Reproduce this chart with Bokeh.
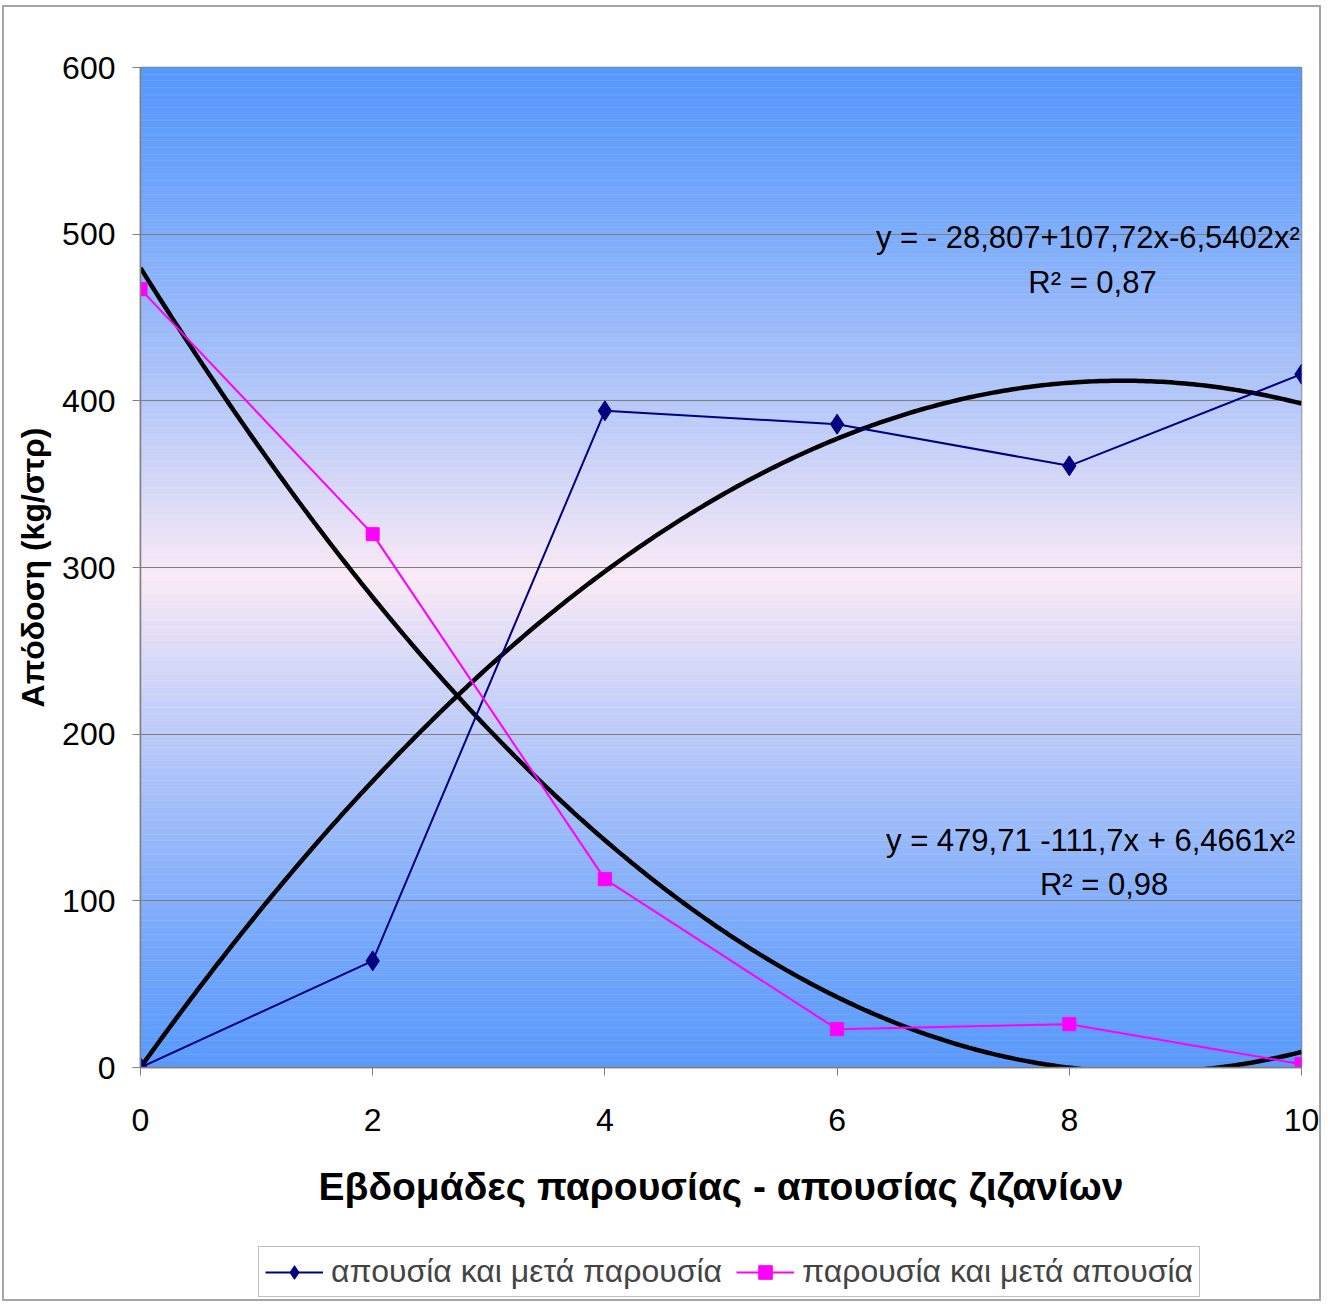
import numpy as np
from bokeh.plotting import figure
from bokeh.layouts import column
from bokeh.models import Legend, LegendItem, Label, FixedTicker
from bokeh.embed import file_html
from bokeh.resources import INLINE

# ---------------- data ----------------
weeks = [0, 2, 4, 6, 8, 10]
absence_then_presence = [0, 64, 394, 386, 361, 416]
presence_then_absence = [467, 320, 113, 23, 26, 2]
series_names = ["απουσία και μετά παρουσία", "παρουσία και μετά απουσία"]
fit2_coef = [479.71, -111.7, 6.4661]    # a + b*x + c*x^2
eq1_text = "y = - 28,807+107,72x-6,5402x²"
r1_text = "R² = 0,87"
eq2_text = "y =  479,71 -111,7x + 6,4661x²"
r2_text = "R² = 0,98"
x_ticks = [0, 2, 4, 6, 8, 10]
y_ticks = [0, 100, 200, 300, 400, 500, 600]
x_title = "Εβδομάδες παρουσίας - απουσίας ζιζανίων"
y_title = "Απόδοση (kg/στρ)"

FONT = "Liberation Sans"
NAVY = "#000080"
MAGENTA = "#ff00ff"

p = figure(width=1315, height=1235, x_range=(0, 10), y_range=(0, 600),
           output_backend="svg", toolbar_location=None,
           min_border_left=136, min_border_top=60, min_border_right=18,
           min_border_bottom=175)
p.background_fill_color = "white"
p.border_fill_color = "white"
p.outline_line_color = "#808080"
p.outline_line_width = 1.5

# gradient background (blue - pink - blue)
def lerp(c1, c2, t):
    return tuple(int(round(a + (b - a) * t)) for a, b in zip(c1, c2))

edge = (88, 153, 252)
mid = (250, 234, 246)
N = 150
edges = np.linspace(0, 600, N + 1)
bottoms, tops, cols = [], [], []
for i in range(N):
    yc = (edges[i] + edges[i + 1]) / 2
    t = 1 - abs(yc - 295) / 305
    t = max(0.0, min(1.0, t)) ** 1.3
    c = lerp(edge, mid, t)
    bottoms.append(edges[i]); tops.append(edges[i + 1])
    cols.append("#%02x%02x%02x" % c)
p.quad(left=0, right=10, bottom=bottoms, top=tops, fill_color=cols,
       line_color=cols, line_width=0.5, level="image")

# grid
p.xgrid.visible = False
p.ygrid.ticker = FixedTicker(ticks=y_ticks)
p.ygrid.grid_line_color = "#7f7f7f"
p.ygrid.grid_line_width = 1.2

# axes
for ax in (p.xaxis[0], p.yaxis[0]):
    ax.axis_line_color = "#808080"
    ax.axis_line_width = 1.5
    ax.major_tick_line_color = "#808080"
    ax.major_tick_in = 0
    ax.major_tick_out = 8
    ax.minor_tick_line_color = None
    ax.major_label_text_font = FONT
    ax.major_label_text_font_size = "32px"
    ax.major_label_text_color = "black"
    ax.axis_label_text_font = FONT
    ax.axis_label_text_font_style = "bold"
    ax.axis_label_text_color = "black"
p.xaxis[0].ticker = FixedTicker(ticks=x_ticks)
p.yaxis[0].ticker = FixedTicker(ticks=y_ticks)
p.xaxis[0].major_label_standoff = 33
p.yaxis[0].major_label_standoff = 17
p.xaxis[0].axis_label = x_title
p.yaxis[0].axis_label = y_title
p.xaxis[0].axis_label_text_font_size = "39px"
p.yaxis[0].axis_label_text_font_size = "32px"
p.xaxis[0].axis_label_standoff = 31
p.yaxis[0].axis_label_standoff = 8

# trend lines: zero-intercept quadratic least-squares fit for the first
# series, the stated polynomial for the second
xw = np.array(weeks, dtype=float)
A = np.column_stack([xw, xw ** 2])
b1, c1 = np.linalg.lstsq(A, np.array(absence_then_presence, float), rcond=None)[0]
xs = np.linspace(0, 10, 301)
fit1 = b1 * xs + c1 * xs ** 2
fit2 = fit2_coef[0] + fit2_coef[1] * xs + fit2_coef[2] * xs ** 2
p.line(xs, fit1, line_color="black", line_width=4.5)
p.line(xs, fit2, line_color="black", line_width=4.5)

# series
p.line(weeks, absence_then_presence, line_color=NAVY, line_width=2)
p.scatter(weeks, absence_then_presence, marker="diamond", size=20,
          fill_color=NAVY, line_color=NAVY)
p.line(weeks, presence_then_absence, line_color=MAGENTA, line_width=2)
p.scatter(weeks, presence_then_absence, marker="square", size=13,
          fill_color=MAGENTA, line_color=MAGENTA)

# equation labels
for txt, x, y in [(eq1_text, 8.16, 498), (r1_text, 8.2, 471),
                  (eq2_text, 8.22, 136), (r2_text, 8.3, 110)]:
    p.add_layout(Label(x=x, y=y, text=txt, text_align="center",
                       text_baseline="middle", text_font=FONT,
                       text_font_size="31px", text_color="black"))

# legend strip (separate small figure so the legend is not clipped);
# its renderers use the same series but lie outside the strip's ranges
q = figure(width=1315, height=57, x_range=(-3, -2), y_range=(-3, -2),
           output_backend="svg", toolbar_location=None,
           x_axis_location=None, y_axis_location=None,
           min_border_left=0, min_border_right=0, min_border_top=0,
           min_border_bottom=0)
q.outline_line_color = None
q.grid.visible = False
q.background_fill_color = "white"
q.border_fill_color = "white"
ql1 = q.line(weeks, absence_then_presence, line_color=NAVY, line_width=2)
qs1 = q.scatter(weeks, absence_then_presence, marker="diamond", size=20,
                fill_color=NAVY, line_color=NAVY)
ql2 = q.line(weeks, presence_then_absence, line_color=MAGENTA, line_width=2)
qs2 = q.scatter(weeks, presence_then_absence, marker="square", size=13,
                fill_color=MAGENTA, line_color=MAGENTA)
legend = Legend(items=[LegendItem(label=series_names[0], renderers=[ql1, qs1]),
                       LegendItem(label=series_names[1], renderers=[ql2, qs2])],
                location=(118, 2), orientation="horizontal",
                border_line_color="#808080", border_line_width=1.5,
                background_fill_color="white", background_fill_alpha=1,
                label_text_font=FONT, label_text_font_size="32px",
                glyph_width=58, glyph_height=34, spacing=14, padding=6,
                label_standoff=8, margin=0)
q.add_layout(legend, "center")

layout = column(p, q, spacing=0)
layout.styles = {"border": "2px solid #a6a6a6"}
layout.margin = (5, 0, 0, 2)

open("out.html", "w").write(file_html(layout, INLINE))
